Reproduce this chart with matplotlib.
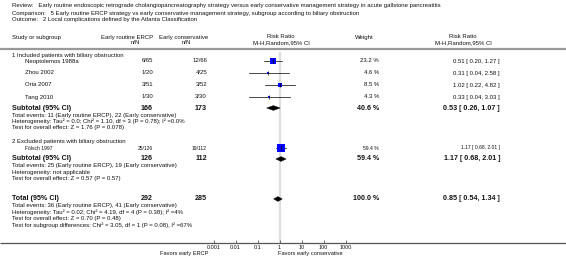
import matplotlib
matplotlib.use("Agg")
import matplotlib.pyplot as plt
from matplotlib.patches import Polygon
import numpy as np

# ---------------- data ----------------
review = "Early routine endoscopic retrograde cholangiopancreatography strategy versus early conservative management strategy in acute gallstone pancreatitis"
comparison = "5 Early routine ERCP strategy vs early conservative management strategy, subgroup according to biliary obstruction"
outcome = "2 Local complications defined by the Atlanta Classification"

group_titles = ["1 Included patients with biliary obstruction",
                "2 Excluded patients with biliary obstruction"]

studies_g1 = ["Neoptolemos 1988a", "Zhou 2002", "Oria 2007", "Tang 2010"]
ev_e_g1 = [6, 1, 3, 1]
n_e_g1 = [65, 20, 51, 30]
ev_c_g1 = [12, 4, 3, 3]
n_c_g1 = [66, 25, 52, 30]
w_g1 = [23.2, 4.6, 8.5, 4.3]
rr_g1 = [0.51, 0.31, 1.02, 0.33]
lo_g1 = [0.20, 0.04, 0.22, 0.04]
hi_g1 = [1.27, 2.58, 4.82, 3.03]

studies_g2 = ["Fölsch 1997"]
ev_e_g2 = [25]
n_e_g2 = [126]
ev_c_g2 = [19]
n_c_g2 = [112]
w_g2 = [59.4]
rr_g2 = [1.17]
lo_g2 = [0.68]
hi_g2 = [2.01]

# subtotals: N_e, N_c, weight, rr, lo, hi
sub_ne = [166, 126]
sub_nc = [173, 112]
sub_w = [40.6, 59.4]
sub_rr = [0.53, 1.17]
sub_lo = [0.26, 0.68]
sub_hi = [1.07, 2.01]
sub_notes = [
    ["Total events: 11 (Early routine ERCP), 22 (Early conservative)",
     "Heterogeneity: Tau² = 0.0; Chi² = 1.10, df = 3 (P = 0.78); I² =0.0%",
     "Test for overall effect: Z = 1.76 (P = 0.078)"],
    ["Total events: 25 (Early routine ERCP), 19 (Early conservative)",
     "Heterogeneity: not applicable",
     "Test for overall effect: Z = 0.57 (P = 0.57)"],
]

tot_ne, tot_nc, tot_w = 292, 285, 100.0
tot_rr, tot_lo, tot_hi = 0.85, 0.54, 1.34
tot_notes = ["Total events: 36 (Early routine ERCP), 41 (Early conservative)",
             "Heterogeneity: Tau² = 0.02; Chi² = 4.19, df = 4 (P = 0.38); I² =4%",
             "Test for overall effect: Z = 0.70 (P = 0.48)",
             "Test for subgroup differences: Chi² = 3.05, df = 1 (P = 0.08), I² =67%"]

tick_vals = [0.001, 0.01, 0.1, 1, 10, 100, 1000]
tick_labels = ["0.001", "0.01", "0.1", "1", "10", "100", "1000"]
favors_left = "Favors early ERCP"
favors_right = "Favors early conservative"

# ---------------- layout ----------------
W, H = 566, 260
plt.rcParams['font.family'] = ['Liberation Sans', 'DejaVu Sans']
fig = plt.figure(figsize=(W / 100, H / 100), dpi=100)
ax0 = fig.add_axes([0, 0, 1, 1])
ax0.set_xlim(0, W)
ax0.set_ylim(H, 0)
ax0.axis('off')

FS = 4.3
FSB = 5.1
FSS = 3.6
x_left = 12
x_study = 25
x_ne = 153
x_nc = 207
x_w = 379
x_rr = 500

def t(x, y, s, ha='left', bold=False, fs=None):
    ax0.text(x, y, s, ha=ha, va='center', fontsize=fs if fs else (FSB if bold else FS),
             fontweight='bold' if bold else 'normal', color='#111111')

t(x_left, 6, "Review:   " + review)
t(x_left, 13, "Comparison:   " + comparison)
t(x_left, 20, "Outcome:   " + outcome)

t(x_left, 37, "Study or subgroup")
t(127, 37, "Early routine ERCP", ha='center')
t(135, 43, "n/N", ha='center')
t(184, 37, "Early conservative", ha='center')
t(186, 43, "n/N", ha='center')
t(281, 37, "Risk Ratio", ha='center')
t(281, 43, "M-H,Random,95% CI", ha='center')
t(355, 37, "Weight")
t(463, 37, "Risk Ratio", ha='center')
t(463, 43, "M-H,Random,95% CI", ha='center')
ax0.plot([0, W], [48.5, 48.5], color='#999999', lw=1.6, solid_capstyle='butt')
ax0.plot([0, W], [243, 243], color='#555555', lw=0.9, solid_capstyle='butt')

# forest axes: 22 px per decade, 1 at x=279.5
px_dec = 22.0
x1 = 279.5
fx0, fx1 = 195, 365
fy0, fy1 = 50, 243
axf = fig.add_axes([fx0 / W, 1 - fy1 / H, (fx1 - fx0) / W, (fy1 - fy0) / H])
axf.set_xscale('log')
axf.set_xlim(10 ** ((fx0 - x1) / px_dec), 10 ** ((fx1 - x1) / px_dec))
axf.set_ylim(fy1, fy0)
axf.patch.set_alpha(0)
for s in axf.spines.values():
    s.set_visible(False)
axf.set_xticks(tick_vals)
axf.set_xticklabels(tick_labels, fontsize=3.9, color='#111111')
axf.minorticks_off()
axf.tick_params(axis='x', direction='in', length=2.2, width=0.6, color='#555555', pad=1.5)
axf.set_yticks([])
axf.plot([1, 1], [fy0 + 3, fy1], color='#dddddd', lw=1.6, zorder=0)

def study_mark(y, rr, lo, hi, w):
    axf.plot([lo, hi], [y, y], color='black', lw=0.5, zorder=2)
    side = 1.15 * np.sqrt(w)  # px
    axf.plot([rr], [y], marker='s', color='#0000ff', markersize=side * 0.72,
             markeredgewidth=0, zorder=3)
    axf.plot([rr], [y], marker='|', color='black', markersize=2.2, markeredgewidth=0.5, zorder=4)

def diamond(y, rr, lo, hi):
    h = 2.4
    axf.add_patch(Polygon([[lo, y], [rr, y - h], [hi, y], [rr, y + h]], closed=True,
                          facecolor='black', edgecolor='black', lw=0.3, zorder=3))

def rrtxt(rr, lo, hi):
    return f"{rr:.2f} [ {lo:.2f}, {hi:.2f} ]"

def study_row(y, name, ee, ne, ec, nc, w, rr, lo, hi, fs=None):
    t(x_study, y, name, fs=fs)
    t(x_ne, y, f"{ee}/{ne}", ha='right', fs=fs)
    t(x_nc, y, f"{ec}/{nc}", ha='right', fs=fs)
    t(x_w, y, f"{w:.1f} %", ha='right', fs=fs)
    t(x_rr, y, rrtxt(rr, lo, hi), ha='right', fs=fs)
    study_mark(y, rr, lo, hi, w)

# group 1
t(x_left, 55, group_titles[0])
rows1 = [61, 73, 85, 97]
for i, y in enumerate(rows1):
    study_row(y, studies_g1[i], ev_e_g1[i], n_e_g1[i], ev_c_g1[i], n_c_g1[i],
              w_g1[i], rr_g1[i], lo_g1[i], hi_g1[i])

def subtotal(y, label, ne, nc, w, rr, lo, hi, notes, ystep=6.3):
    t(x_left, y, label, bold=True)
    t(x_ne, y, f"{ne}", ha='right', bold=True)
    t(x_nc, y, f"{nc}", ha='right', bold=True)
    t(x_w, y, f"{w:.1f} %", ha='right', bold=True)
    t(x_rr, y, rrtxt(rr, lo, hi), ha='right', bold=True)
    diamond(y, rr, lo, hi)
    for k, n in enumerate(notes):
        t(x_left, y + 7 + k * ystep, n)

subtotal(108, "Subtotal (95% CI)", sub_ne[0], sub_nc[0], sub_w[0], sub_rr[0], sub_lo[0], sub_hi[0], sub_notes[0])

# group 2
t(x_left, 142, group_titles[1])
rows2 = [148]
for i, y in enumerate(rows2):
    study_row(y, studies_g2[i], ev_e_g2[i], n_e_g2[i], ev_c_g2[i], n_c_g2[i],
              w_g2[i], rr_g2[i], lo_g2[i], hi_g2[i], fs=FSS)

subtotal(159, "Subtotal (95% CI)", sub_ne[1], sub_nc[1], sub_w[1], sub_rr[1], sub_lo[1], sub_hi[1], sub_notes[1])

subtotal(199, "Total (95% CI)", tot_ne, tot_nc, tot_w, tot_rr, tot_lo, tot_hi, tot_notes)

t(208, 254, favors_left, ha='right', fs=4.1)
t(278, 254, favors_right, ha='left', fs=4.1)

fig.savefig("out.png", dpi=100)
